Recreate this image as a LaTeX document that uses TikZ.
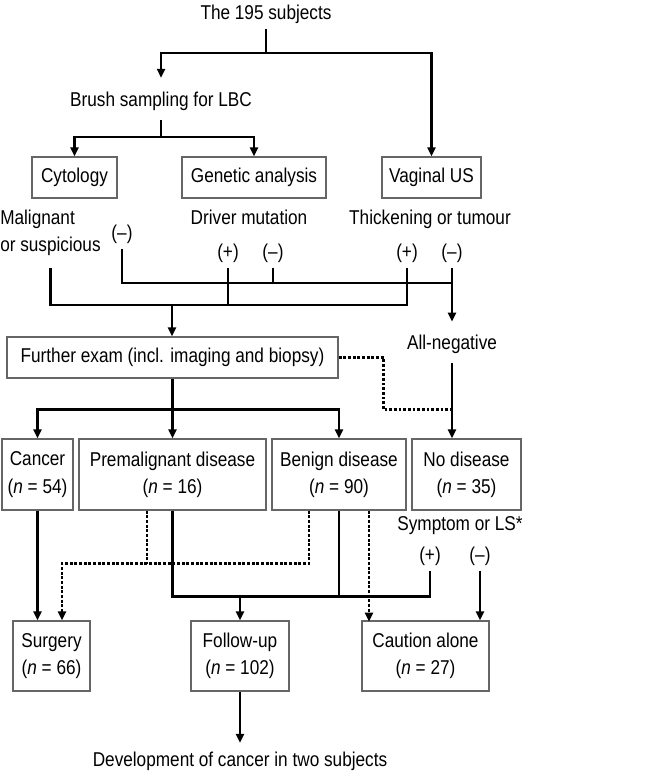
\documentclass[tikz,border=0pt]{standalone}
\usepackage{fontspec}
\setmainfont{Liberation Sans}[FakeStretch=0.86]
\usetikzlibrary{arrows.meta,calc}
\tikzset{
  box/.style={draw=black!60, line width=0.9pt, inner sep=0pt, align=center},
  lbl/.style={inner xsep=2pt, inner ysep=3.75pt, text height=11pt, text depth=3.2pt},
  conn/.style={line width=1.8pt},
  arr/.style={conn, -{Triangle[length=6.75pt,width=6pt]}},
  dotl/.style={conn, dash pattern=on 2.2pt off 1.3pt},
  dotarr/.style={dotl, -{Triangle[length=6.75pt,width=6pt]}}
}
\begin{document}
\begin{tikzpicture}[x=0.75pt, y=-0.75pt, font=\fontsize{15}{20.5}\selectfont]
  \useasboundingbox (0,0) rectangle (667,773);
  \node[lbl] (title) at (266,14) {The 195 subjects};
  \node[lbl] (brush) at (161,101.5) {Brush sampling for LBC};
  \node[box, minimum width=63.75pt, minimum height=30.75pt] (cyto) at (74.5,177.5) {Cytology};
  \node[box, minimum width=108pt, minimum height=30.75pt] (gene) at (254,177.5) {Genetic analysis};
  \node[box, minimum width=74.25pt, minimum height=30.75pt] (vus) at (431.5,177.5) {Vaginal US};
  \node[align=left, anchor=west, inner sep=0pt] (malig) at (0,233) {Malignant\\or suspicious};
  \node[lbl] (cyneg) at (122,234) {(–)};
  \node[lbl] (driver) at (249,219.8) {Driver mutation};
  \node[lbl] (gpos) at (228,253) {(+)};
  \node[lbl] (gneg) at (273,253) {(–)};
  \node[lbl] (thick) at (430,219.8) {Thickening or tumour};
  \node[lbl] (upos) at (407,253) {(+)};
  \node[lbl] (uneg) at (452,253) {(–)};
  \node[box, minimum width=248.25pt, minimum height=30.75pt] (further) at (172.5,357.5) {Further exam (incl. imaging and biopsy)};
  \node[lbl] (allneg) at (452,344) {All-negative};
  \node[box, minimum width=53.25pt, minimum height=53.25pt] (cancer) at (37.5,474.5) {Cancer\\(\textit{n} = 54)};
  \node[box, minimum width=140.25pt, minimum height=53.25pt] (premal) at (172.5,474.5) {Premalignant disease\\(\textit{n} = 16)};
  \node[box, minimum width=100.5pt, minimum height=53.25pt] (benign) at (339,474.5) {Benign disease\\(\textit{n} = 90)};
  \node[box, minimum width=81.75pt, minimum height=53.25pt] (nodis) at (466.5,474.5) {No disease\\(\textit{n} = 35)};
  \node[lbl] (symp) at (460,524.8) {Symptom or LS*};
  \node[lbl] (spos) at (430,556) {(+)};
  \node[lbl] (sneg) at (480,556) {(–)};
  \node[box, minimum width=57.75pt, minimum height=52.5pt] (surgery) at (51.5,656) {Surgery\\(\textit{n} = 66)};
  \node[box, minimum width=73.5pt, minimum height=52.5pt] (follow) at (240,656) {Follow-up\\(\textit{n} = 102)};
  \node[box, minimum width=95.25pt, minimum height=52.5pt] (caution) at (425.5,656) {Caution alone\\(\textit{n} = 27)};
  \node[lbl] (devel) at (240,761.5) {Development of cancer in two subjects};

  \draw[conn] (title.south) -- ++(0,24) coordinate (top);
  \draw[arr] (top) -| ([yshift=6.75pt]brush.north);
  \draw[arr] (top) -| (vus.north);
  \draw[conn] ([yshift=-3pt]brush.south) -- ++(0,17) coordinate (lbc);
  \draw[arr] (lbc) -| (cyto.north);
  \draw[arr] (lbc) -| (gene.north);

  \coordinate (pos) at (172,305);
  \draw[conn] ([yshift=-9pt]malig.south) |- (pos) -| (upos.south);
  \draw[conn] (gpos.south) -- (gpos.south |- pos);
  \draw[arr] (pos) -- (pos |- further.north);
  \draw[conn] (uneg.south) -- ++(0,15) coordinate (neg);
  \draw[conn] (cyneg.south) |- (neg);
  \draw[conn] (gneg.south) -- (gneg.south |- neg);
  \draw[arr] (neg) -- ([yshift=5.7pt]allneg.north);

  \draw[conn] (further.south) -- ++(0,31) coordinate (split);
  \draw[arr] (split) -| (cancer.north);
  \draw[arr] (split) -| (benign.north);
  \draw[arr] (split) -- (premal.north);
  \draw[dotl] (further.east) -- ++(45,0) |- (allneg.south |- split);
  \draw[arr] ([yshift=-3pt]allneg.south) -- (allneg.south |- nodis.north);

  \draw[arr] (cancer.south) -- (cancer.south |- surgery.north);
  \draw[dotarr] ($(benign.south)+(-30,0)$) -- ++(0,53) -| ($(surgery.north)+(10.5,0)$);
  \draw[dotl] ($(premal.south)+(-25.5,0)$) -- ++(0,53);
  \draw[conn] (premal.south) -- ++(0,86) coordinate (fu) -| (spos.south);
  \draw[conn] (benign.south) -- (benign.south |- fu);
  \draw[arr] (fu -| follow.north) -- (follow.north);
  \draw[dotarr] ($(benign.south)+(30,0)$) -- ++(0,111);
  \draw[arr] (sneg.south) -- (sneg.south |- caution.north);
  \draw[arr] (follow.south) -- ([yshift=3pt]devel.north);
\end{tikzpicture}
\end{document}
